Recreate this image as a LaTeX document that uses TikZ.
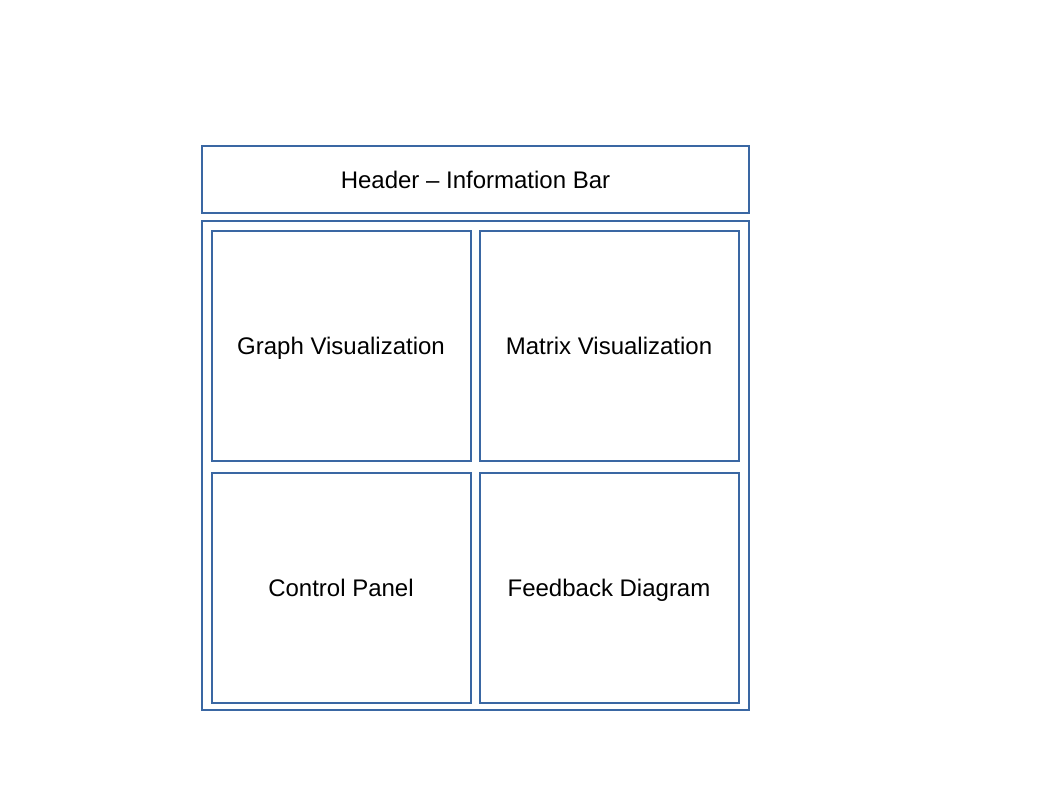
\documentclass[tikz,border=0pt]{standalone}
\usepackage{fontspec}
\setmainfont{Liberation Sans}
\definecolor{boxblue}{HTML}{3A67A3}
\begin{document}
\begin{tikzpicture}[x=1pt,y=-1pt,
  panel/.style={draw=boxblue,line width=1.5pt},
  lbl/.style={font=\fontsize{24}{28}\selectfont,text=black,anchor=base,inner sep=0pt}]
\useasboundingbox (0,0) rectangle (1058,794);
\draw[panel] (202,146) rectangle (749,213);
\node[lbl] (header) at (475.5,188.5) {Header – Information Bar};
\draw[panel] (202,221) rectangle (749,710);
\draw[panel] (212,231) rectangle (471,461);
\node[lbl] (graph) at (341,354.5) {Graph Visualization};
\draw[panel] (480,231) rectangle (739,461);
\node[lbl] (matrix) at (609,354.5) {Matrix Visualization};
\draw[panel] (212,473) rectangle (471,703);
\node[lbl] (control) at (341,596.5) {Control Panel};
\draw[panel] (480,473) rectangle (739,703);
\node[lbl] (feedback) at (609,596.5) {Feedback Diagram};
\end{tikzpicture}
\end{document}
